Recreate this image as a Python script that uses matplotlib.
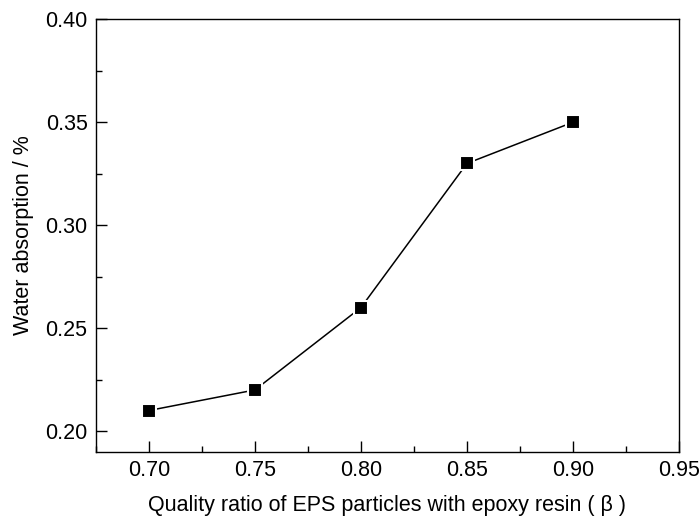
import matplotlib.pyplot as plt
from matplotlib.ticker import MultipleLocator

plt.rcParams['font.family'] = ['Liberation Sans', 'DejaVu Sans']

ratio = [0.70, 0.75, 0.80, 0.85, 0.90]
absorption = [0.21, 0.22, 0.26, 0.33, 0.35]

fig = plt.figure(figsize=(7, 5.21), dpi=100)
ax = fig.add_axes([0.137, 0.133, 0.833, 0.830])

ax.plot(ratio, absorption, color='black', lw=1.1, marker='s', markersize=9.5,
        markerfacecolor='black', markeredgecolor='white', markeredgewidth=1.5)

ax.set_xlim(0.675, 0.95)
ax.set_ylim(0.19, 0.40)
ax.xaxis.set_major_locator(MultipleLocator(0.05))
ax.xaxis.set_minor_locator(MultipleLocator(0.025))
ax.yaxis.set_major_locator(MultipleLocator(0.05))
ax.yaxis.set_minor_locator(MultipleLocator(0.025))
ax.xaxis.set_major_formatter(plt.FormatStrFormatter('%.2f'))
ax.yaxis.set_major_formatter(plt.FormatStrFormatter('%.2f'))
ax.tick_params(which='both', direction='in', width=1, labelsize=15.5)
ax.tick_params(which='major', length=8, pad=6)
ax.tick_params(which='minor', length=4)
for s in ax.spines.values():
    s.set_linewidth(1)

ax.set_xlabel('Quality ratio of EPS particles with epoxy resin ( β )', fontsize=15.5, labelpad=10)
ax.set_ylabel('Water absorption / %', fontsize=15.5, labelpad=8)

fig.savefig('out.png', dpi=100)
